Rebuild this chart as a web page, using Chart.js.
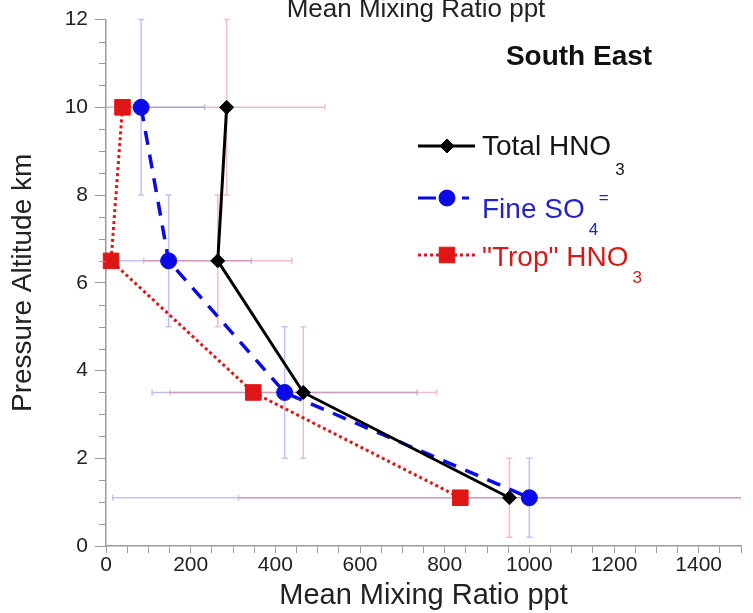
<!DOCTYPE html>
<html>
<head>
<meta charset="utf-8">
<script src="https://cdn.jsdelivr.net/npm/chart.js@4.4.1/dist/chart.umd.min.js"></script>
<style>
  html, body { margin: 0; padding: 0; background: #fff; }
  #wrap { width: 753px; height: 613px; }
</style>
</head>
<body>
<div id="wrap"><canvas id="profileChart" width="753" height="613"></canvas></div>
<script>
// altitude levels (km) shared by every profile
const altitudes = [10, 6.5, 3.5, 1.1];

// mean mixing ratios, ppt
const totalHNO3 = [285, 264, 466, 953];
const fineSO4 = [83, 148, 422, 1000];
const tropHNO3 = [39, 12, 348, 837];

// error bars: +/- in ppt (horizontal) and km (vertical)
const totalHNO3XErr = [232, 175, 315, 640];
const totalHNO3YErr = [2, 1.5, 1.5, 0.9];
const fineSO4XErr = [150, 195, 313, 984];
const fineSO4YErr = [2, 1.5, 1.5, 0.9];

const xTickStep = 50;
const xLabelStep = 200;
const yLabelStep = 2;
const yMinorStep = 0.5;

const sans = "'Liberation Sans', Arial, Helvetica, sans-serif";

const BLACK = '#000000';
const BLUE = '#0a0ae6';
const RED = '#e01616';

function toPoints(xs) {
    return xs.map((v, i) => ({ x: v, y: altitudes[i] }));
}

const errorSets = [
    { values: fineSO4, xErr: fineSO4XErr, yErr: fineSO4YErr, color: 'rgba(120,120,215,0.45)' },
    { values: totalHNO3, xErr: totalHNO3XErr, yErr: totalHNO3YErr, color: 'rgba(215,110,140,0.45)' }
];

// light error crosses under the profiles
const errorBarPlugin = {
    id: 'errorBars',
    beforeDatasetsDraw(chart) {
        const { ctx, chartArea: a, scales: { x, y } } = chart;
        const cap = 3;
        ctx.save();
        ctx.beginPath();
        ctx.rect(a.left, a.top - 6, a.right - a.left, a.bottom - a.top + 6);
        ctx.clip();
        ctx.lineWidth = 1.5;
        errorSets.forEach(set => {
            ctx.strokeStyle = set.color;
            altitudes.forEach((alt, i) => {
                const v = set.values[i];
                const px = x.getPixelForValue(v);
                const py = y.getPixelForValue(alt);
                const x0 = x.getPixelForValue(v - set.xErr[i]);
                const x1 = x.getPixelForValue(v + set.xErr[i]);
                const y0 = y.getPixelForValue(alt - set.yErr[i]);
                const y1 = y.getPixelForValue(alt + set.yErr[i]);
                ctx.beginPath();
                ctx.moveTo(x0, py); ctx.lineTo(x1, py);
                ctx.moveTo(px, y0); ctx.lineTo(px, y1);
                ctx.moveTo(x0, py - cap); ctx.lineTo(x0, py + cap);
                ctx.moveTo(x1, py - cap); ctx.lineTo(x1, py + cap);
                ctx.moveTo(px - cap, y0); ctx.lineTo(px + cap, y0);
                ctx.moveTo(px - cap, y1); ctx.lineTo(px + cap, y1);
                ctx.stroke();
            });
        });
        ctx.restore();
    }
};

const legendRows = [
    { label: 'Total HNO', sub: '3', sup: '', color: BLACK, textColor: '#151515', style: 'rectRot', radius: 7, dash: [], y: 146, textY: 147, subY: 170 },
    { label: 'Fine SO', sub: '4', sup: '=', color: BLUE, textColor: '#2424c4', style: 'circle', radius: 8, dash: 'split', y: 198, textY: 210, subY: 230 },
    { label: '"Trop" HNO', sub: '3', sup: '', color: RED, textColor: '#d41c1c', style: 'rect', radius: 11, dash: [3, 3], y: 255, textY: 258, subY: 278 }
];

// top caption, panel name, minor ticks and the legend
const decorPlugin = {
    id: 'decor',
    afterDraw(chart) {
        const { ctx, chartArea: a, scales: { y } } = chart;
        ctx.save();

        // minor ticks on the altitude axis
        ctx.strokeStyle = '#9a9a9a';
        ctx.lineWidth = 1;
        for (let v = y.min; v <= y.max + 1e-9; v += yMinorStep) {
            if (Math.abs(v % yLabelStep) < 1e-9) continue;
            const py = Math.round(y.getPixelForValue(v)) + 0.5;
            ctx.beginPath();
            ctx.moveTo(a.left - 7, py);
            ctx.lineTo(a.left, py);
            ctx.stroke();
        }

        ctx.fillStyle = '#222';
        ctx.textAlign = 'center';
        ctx.textBaseline = 'alphabetic';
        ctx.font = '26px ' + sans;
        ctx.fillText('Mean Mixing Ratio ppt', 416, 17);

        ctx.fillStyle = '#111';
        ctx.textBaseline = 'middle';
        ctx.font = 'bold 28px ' + sans;
        ctx.fillText('South East', 579, 57);

        legendRows.forEach(row => {
            ctx.strokeStyle = row.color;
            ctx.fillStyle = row.color;
            ctx.lineWidth = 3;
            if (row.dash === 'split') {
                ctx.setLineDash([]);
                ctx.beginPath();
                ctx.moveTo(418, row.y); ctx.lineTo(436, row.y);
                ctx.moveTo(462, row.y); ctx.lineTo(469, row.y);
                ctx.stroke();
            } else {
                ctx.setLineDash(row.dash);
                ctx.beginPath();
                ctx.moveTo(418, row.y); ctx.lineTo(475, row.y);
                ctx.stroke();
            }
            ctx.setLineDash([]);
            ctx.lineWidth = 1;
            Chart.helpers.drawPoint(ctx, { pointStyle: row.style, radius: row.radius, rotation: 0, borderWidth: 1 }, 447, row.y);

            ctx.fillStyle = row.textColor;
            ctx.textAlign = 'left';
            ctx.textBaseline = 'middle';
            ctx.font = '28px ' + sans;
            ctx.fillText(row.label, 482, row.textY);
            const end = 482 + ctx.measureText(row.label).width;
            ctx.font = '17px ' + sans;
            ctx.fillText(row.sub, end + 4, row.subY);
            if (row.sup) ctx.fillText(row.sup, end + 14, row.y);
        });

        ctx.restore();
    }
};

const ctx = document.getElementById('profileChart').getContext('2d');
const chart = new Chart(ctx, {
    type: 'line',
    data: {
        datasets: [
            {
                label: 'Total HNO3',
                data: toPoints(totalHNO3),
                borderColor: BLACK,
                backgroundColor: BLACK,
                borderWidth: 3,
                pointStyle: 'rectRot',
                pointRadius: 7,
                pointBorderWidth: 1,
                tension: 0,
                clip: false
            },
            {
                label: 'Fine SO4=',
                data: toPoints(fineSO4),
                borderColor: BLUE,
                backgroundColor: BLUE,
                borderWidth: 3.5,
                borderDash: [14, 10],
                pointStyle: 'circle',
                pointRadius: 8,
                pointBorderWidth: 1,
                tension: 0,
                clip: false
            },
            {
                label: '"Trop" HNO3',
                data: toPoints(tropHNO3),
                borderColor: RED,
                backgroundColor: RED,
                borderWidth: 3,
                borderDash: [3, 3],
                pointStyle: 'rect',
                pointRadius: 11,
                pointBorderWidth: 1,
                tension: 0,
                clip: false
            }
        ]
    },
    options: {
        responsive: false,
        animation: false,
        devicePixelRatio: 1,
        layout: { padding: { top: 19, right: 0, bottom: 0, left: 0 } },
        plugins: {
            legend: { display: false },
            tooltip: { enabled: false },
            title: { display: false }
        },
        scales: {
            x: {
                type: 'linear',
                min: 0,
                max: 1500,
                ticks: {
                    stepSize: xTickStep,
                    autoSkip: false,
                    maxRotation: 0,
                    padding: 0,
                    color: '#222',
                    font: { family: sans, size: 21 },
                    callback: v => (v % xLabelStep === 0 ? v : '')
                },
                grid: { drawOnChartArea: false, tickLength: 7, tickColor: '#9a9a9a' },
                border: { color: '#9a9a9a', width: 1.5 },
                title: {
                    display: true,
                    text: 'Mean Mixing Ratio ppt',
                    color: '#222',
                    font: { family: sans, size: 29 },
                    padding: { top: 0, bottom: 0 }
                },
                afterFit: s => { s.height = 67; }
            },
            y: {
                type: 'linear',
                min: 0,
                max: 12,
                ticks: {
                    stepSize: yLabelStep,
                    padding: 7,
                    color: '#222',
                    font: { family: sans, size: 21 }
                },
                grid: { drawOnChartArea: false, tickLength: 11, tickColor: '#9a9a9a' },
                border: { color: '#9a9a9a', width: 1.5 },
                title: {
                    display: true,
                    text: 'Pressure Altitude km',
                    color: '#222',
                    font: { family: sans, size: 28 },
                    padding: { top: 6, bottom: 0 }
                },
                afterFit: s => { s.width = 106; }
            }
        }
    },
    plugins: [errorBarPlugin, decorPlugin]
});
</script>
</body>
</html>
